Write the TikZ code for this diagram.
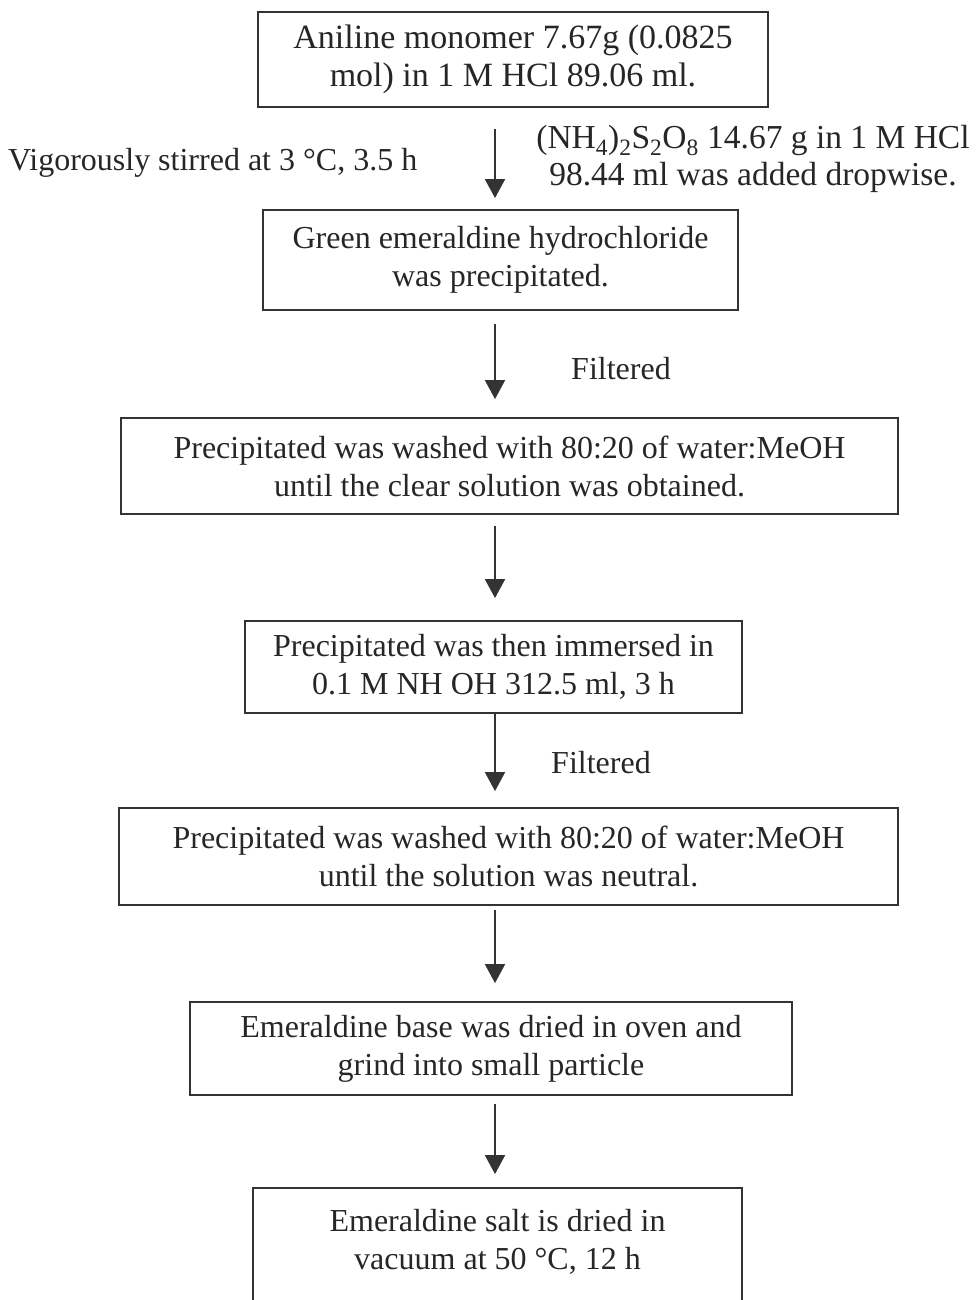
\documentclass[tikz,border=0pt]{standalone}
\usepackage{fontspec}
\setmainfont{Liberation Serif}
\usetikzlibrary{arrows.meta}
\begin{document}
\begin{tikzpicture}[x=1pt,y=-1pt,
  box/.style={draw=black!80, line width=1.8pt, align=center, inner sep=0pt, font=\fontsize{32}{38}\selectfont, text=black!85},
  lbl/.style={align=center, inner sep=0pt, font=\fontsize{32}{36}\selectfont, text=black!85},
  arr/.style={draw=black!80, line width=1.8pt, -{Triangle[length=19pt,width=20pt]}}]
\useasboundingbox (0,0) rectangle (978,1300);
\clip (0,0) rectangle (978,1300);
\coordinate (ax) at (495,0);
\node[box, minimum width=510, minimum height=95, font=\fontsize{34}{38}\selectfont] (b1) at (513,59.5) {Aniline monomer 7.67g (0.0825\\mol) in 1 M HCl 89.06 ml.};
\node[box, minimum width=475, minimum height=100] (b2) at (500.5,260) {Green emeraldine hydrochloride\\was precipitated.};
\node[box, minimum width=777, minimum height=96] (b3) at (509.5,466) {Precipitated was washed with 80:20 of water:MeOH\\until the clear solution was obtained.};
\node[box, minimum width=497, minimum height=92] (b4) at (493.5,667) {Precipitated was then immersed in\\0.1 M NH OH 312.5 ml, 3 h};
\node[box, minimum width=779, minimum height=97] (b5) at (508.5,856.5) {Precipitated was washed with 80:20 of water:MeOH\\until the solution was neutral.};
\node[box, minimum width=602, minimum height=93] (b6) at (491,1048.5) {Emeraldine base was dried in oven and\\grind into small particle};
\node[box, draw=none, minimum width=487, minimum height=106] (b7) at (497.5,1242) {Emeraldine salt is dried in\\vacuum at 50 °C, 12 h};
\draw[draw=black!80, line width=1.8pt] ([yshift=-40pt]b7.south west) -- (b7.north west) -- (b7.north east) -- ([yshift=-40pt]b7.south east);
\node[lbl, anchor=west] (l1) at (8,163) {Vigorously stirred at 3 °C, 3.5 h};
\node[lbl, font=\fontsize{33.5}{37}\selectfont] (l2) at (753,159) {(NH\textsubscript{4})\textsubscript{2}S\textsubscript{2}O\textsubscript{8} 14.67 g in 1 M HCl\\98.44 ml was added dropwise.};
\node[lbl] (l3) at (621,369) {Filtered};
\node[lbl] (l4) at (601,763) {Filtered};
\draw[arr, shorten <=21pt, shorten >=11pt] (b1.south -| ax) -- (b2.north -| ax);
\draw[arr, shorten <=13pt, shorten >=18pt] (b2.south -| ax) -- (b3.north -| ax);
\draw[arr, shorten <=11pt, shorten >=22pt] (b3.south -| ax) -- (b4.north -| ax);
\draw[arr, shorten <=0pt, shorten >=16pt] (b4.south -| ax) -- (b5.north -| ax);
\draw[arr, shorten <=4pt, shorten >=18pt] (b5.south -| ax) -- (b6.north -| ax);
\draw[arr, shorten <=8pt, shorten >=14pt] (b6.south -| ax) -- (b7.north -| ax);
\end{tikzpicture}
\end{document}
